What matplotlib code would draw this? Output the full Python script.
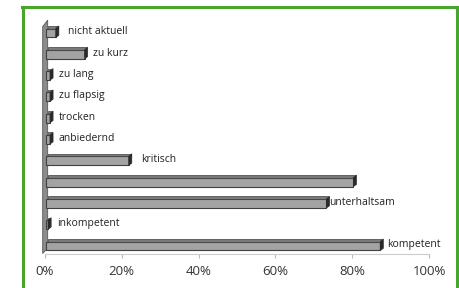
import matplotlib.pyplot as plt
from matplotlib.patches import Polygon
from matplotlib.lines import Line2D

labels = ['kompetent', 'inkompetent', 'unterhaltsam', '', 'kritisch',
          'anbiedernd', 'trocken', 'zu flapsig', 'zu lang', 'zu kurz', 'nicht aktuell']
values = [87, 0.5, 73, 80, 21.5, 1, 1, 1, 1, 10, 2.5]
label_pad = [1, 1.5, 0, 2, 2.5, 1.5, 1.5, 1.5, 1.5, 1.5, 2.5]
ticks = [0, 20, 40, 60, 80, 100]

plt.rcParams['font.family'] = ['Open Sans', 'DejaVu Sans']

fig = plt.figure(figsize=(4.6, 2.88), dpi=100)
ax = fig.add_axes([45 / 460, 1 - 254 / 288, 384 / 460, 229 / 288])

h = 0.42
for i, (v, lab, p) in enumerate(zip(values, labels, label_pad)):
    # front face
    ax.barh(i, v, height=h, left=0.3, color='#a3a3a3', edgecolor='#404040', linewidth=0.8, zorder=3)
    # top face
    ax.barh(i + h / 2 + 0.06, v, height=0.12, left=0.8, color='#7a7a7a', edgecolor='#404040',
            linewidth=0.5, zorder=3)
    # end cap
    cap = Polygon([(v + 0.3, i - h / 2), (v + 1.1, i - h / 2 + 0.1), (v + 1.1, i + h / 2 + 0.12),
                   (v + 0.3, i + h / 2)], closed=True, facecolor='#2a2a2a', edgecolor='#2a2a2a',
                  linewidth=0.5, zorder=4)
    ax.add_patch(cap)
    if lab:
        ax.text(v + 1.1 + p, i + 0.05, lab, va='center', ha='left', fontsize=7.5, color='#222222')

# side wall
wall = Polygon([(-0.6, -0.35), (0.7, -0.1), (0.7, 10.6), (-0.6, 10.3)], closed=True,
               facecolor='#8c8c8c', edgecolor='#555555', linewidth=0.6, clip_on=False, zorder=2)
ax.add_patch(wall)

ax.set_xlim(0, 100)
ax.set_ylim(-0.375, 10.375)
ax.set_xticks(ticks)
ax.set_xticklabels([f'{t}%' for t in ticks], fontsize=9.5, color='#333333')
ax.set_yticks([])
ax.tick_params(axis='x', length=3, color='#bbbbbb', pad=5)
for s in ['top', 'right', 'left']:
    ax.spines[s].set_visible(False)
ax.spines['bottom'].set_color('#cccccc')
ax.spines['bottom'].set_linewidth(0.8)

green = '#4aa52e'
fig.add_artist(Line2D([23 / 460, 23 / 460], [0, 1 - 7 / 288], color=green, lw=2.2))
fig.add_artist(Line2D([22 / 460, 458 / 460], [1 - 7 / 288, 1 - 7 / 288], color=green, lw=2.2))
fig.add_artist(Line2D([457 / 460, 457 / 460], [0, 1 - 7 / 288], color=green, lw=2.2))

fig.savefig('out.png', dpi=100)
